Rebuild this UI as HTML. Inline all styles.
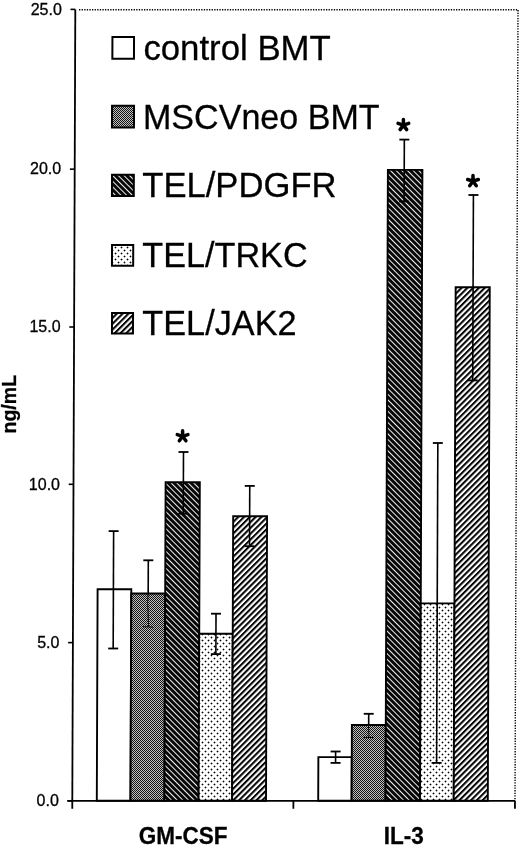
<!DOCTYPE html>
<html><head><meta charset="utf-8"><style>
html,body{margin:0;padding:0;background:#fff;overflow:hidden;}
svg{display:block;filter:grayscale(1);}
text{font-family:"Liberation Sans",sans-serif;fill:#000;stroke:#000;stroke-width:0.3px;}
</style></head><body>
<svg width="520" height="847" viewBox="0 0 520 847">
<defs>
<pattern id="pMS" patternUnits="userSpaceOnUse" width="2" height="2">
<rect width="2" height="2" fill="#c0c0c0"/><rect x="0" y="0" width="1" height="1" fill="#141414"/><rect x="1" y="1" width="1" height="1" fill="#141414"/>
</pattern>
<pattern id="pPD" patternUnits="userSpaceOnUse" width="4.0" height="4.0" patternTransform="rotate(45)">
<rect width="4.0" height="4.0" fill="#080808"/><rect x="0" y="0" width="4.0" height="1.0" fill="#f0f0f0"/>
</pattern>
<pattern id="pJK" patternUnits="userSpaceOnUse" width="4.1" height="4.1" patternTransform="rotate(-45)">
<rect width="4.1" height="4.1" fill="#fff"/><rect x="0" y="0" width="4.1" height="2.05" fill="#050505"/>
</pattern>
<pattern id="pTR" patternUnits="userSpaceOnUse" width="6" height="6">
<rect width="6" height="6" fill="#fff"/><rect x="1" y="1" width="1" height="1" fill="#000"/><rect x="0" y="1" width="1" height="1" fill="#a8a8a8"/><rect x="2" y="1" width="1" height="1" fill="#a8a8a8"/><rect x="1" y="0" width="1" height="1" fill="#a8a8a8"/><rect x="1" y="2" width="1" height="1" fill="#a8a8a8"/><rect x="4" y="4" width="1" height="1" fill="#000"/><rect x="3" y="4" width="1" height="1" fill="#a8a8a8"/><rect x="5" y="4" width="1" height="1" fill="#a8a8a8"/><rect x="4" y="3" width="1" height="1" fill="#a8a8a8"/><rect x="4" y="5" width="1" height="1" fill="#a8a8a8"/>
</pattern>
</defs>

<path d="M79.01,9.70 L518.01,9.70 L515.00,800.80" fill="none" stroke="#000" stroke-width="1.4" stroke-dasharray="1.3 1.3"/>
<path d="M97.60,589.20 L131.30,589.20 L130.50,800.80 L96.80,800.80 Z" fill="#ffffff" stroke="#000" stroke-width="1.9"/>
<path d="M131.29,593.50 L165.19,593.50 L164.40,800.80 L130.50,800.80 Z" fill="url(#pMS)" stroke="#000" stroke-width="1.9"/>
<path d="M165.61,482.20 L199.81,482.20 L198.60,800.80 L164.40,800.80 Z" fill="url(#pPD)" stroke="#000" stroke-width="1.9"/>
<path d="M199.23,633.80 L232.73,633.80 L232.10,800.80 L198.60,800.80 Z" fill="url(#pTR)" stroke="#000" stroke-width="1.9"/>
<path d="M233.18,516.20 L267.08,516.20 L266.00,800.80 L232.10,800.80 Z" fill="url(#pJK)" stroke="#000" stroke-width="1.9"/>
<path d="M318.37,757.10 L351.77,757.10 L351.60,800.80 L318.20,800.80 Z" fill="#ffffff" stroke="#000" stroke-width="1.9"/>
<path d="M351.89,725.00 L385.79,725.00 L385.50,800.80 L351.60,800.80 Z" fill="url(#pMS)" stroke="#000" stroke-width="1.9"/>
<path d="M387.90,169.90 L422.40,169.90 L420.00,800.80 L385.50,800.80 Z" fill="url(#pPD)" stroke="#000" stroke-width="1.9"/>
<path d="M420.75,603.40 L454.45,603.40 L453.70,800.80 L420.00,800.80 Z" fill="url(#pTR)" stroke="#000" stroke-width="1.9"/>
<path d="M455.65,287.30 L489.75,287.30 L487.80,800.80 L453.70,800.80 Z" fill="url(#pJK)" stroke="#000" stroke-width="1.9"/>
<path d="M113.62,531.10 L113.40,589.20" stroke="#000" stroke-width="1.6"/>
<path d="M113.40,589.20 L113.18,648.50" stroke="#000" stroke-width="1.6"/>
<path d="M108.18,648.50 L118.18,648.50" stroke="#000" stroke-width="1.8"/>
<path d="M108.62,531.10 L118.62,531.10" stroke="#000" stroke-width="1.8"/>
<path d="M148.31,560.30 L148.19,593.50" stroke="#000" stroke-width="1.6"/>
<path d="M148.19,593.50 L148.06,627.00" stroke="#000" stroke-width="1.6" stroke-dasharray="1.2 0.9"/>
<path d="M143.06,627.00 L153.06,627.00" stroke="#000" stroke-width="1.7" stroke-dasharray="1.2 0.9"/>
<path d="M143.31,560.30 L153.31,560.30" stroke="#000" stroke-width="1.8"/>
<path d="M183.49,452.00 L183.38,482.20" stroke="#000" stroke-width="1.6"/>
<path d="M183.38,482.20 L183.26,513.70" stroke="#000" stroke-width="1.6"/>
<path d="M178.26,513.70 L188.26,513.70" stroke="#000" stroke-width="1.8"/>
<path d="M178.49,452.00 L188.49,452.00" stroke="#000" stroke-width="1.8"/>
<path d="M216.02,613.70 L215.95,633.80" stroke="#000" stroke-width="1.6"/>
<path d="M215.95,633.80 L215.87,654.10" stroke="#000" stroke-width="1.6"/>
<path d="M210.87,654.10 L220.87,654.10" stroke="#000" stroke-width="1.8"/>
<path d="M211.02,613.70 L221.02,613.70" stroke="#000" stroke-width="1.8"/>
<path d="M249.75,485.90 L249.64,516.20" stroke="#000" stroke-width="1.6"/>
<path d="M249.64,516.20 L249.52,546.20" stroke="#000" stroke-width="1.6"/>
<path d="M244.52,546.20 L254.52,546.20" stroke="#000" stroke-width="1.8"/>
<path d="M244.75,485.90 L254.75,485.90" stroke="#000" stroke-width="1.8"/>
<path d="M335.62,751.50 L335.60,757.10" stroke="#000" stroke-width="1.6"/>
<path d="M335.60,757.10 L335.58,762.90" stroke="#000" stroke-width="1.6"/>
<path d="M330.58,762.90 L340.58,762.90" stroke="#000" stroke-width="1.8"/>
<path d="M330.62,751.50 L340.62,751.50" stroke="#000" stroke-width="1.8"/>
<path d="M368.72,713.80 L368.68,725.00" stroke="#000" stroke-width="1.6"/>
<path d="M368.68,725.00 L368.63,737.50" stroke="#000" stroke-width="1.6" stroke-dasharray="1.2 0.9"/>
<path d="M363.63,737.50 L373.63,737.50" stroke="#000" stroke-width="1.7" stroke-dasharray="1.2 0.9"/>
<path d="M363.72,713.80 L373.72,713.80" stroke="#000" stroke-width="1.8"/>
<path d="M404.34,139.60 L404.22,169.90" stroke="#000" stroke-width="1.6"/>
<path d="M404.22,169.90 L404.10,201.50" stroke="#000" stroke-width="1.6"/>
<path d="M399.10,201.50 L409.10,201.50" stroke="#000" stroke-width="1.8"/>
<path d="M399.34,139.60 L409.34,139.60" stroke="#000" stroke-width="1.8"/>
<path d="M437.83,443.00 L437.22,603.40" stroke="#000" stroke-width="1.6"/>
<path d="M437.22,603.40 L436.61,762.90" stroke="#000" stroke-width="1.6"/>
<path d="M431.61,762.90 L441.61,762.90" stroke="#000" stroke-width="1.8"/>
<path d="M432.83,443.00 L442.83,443.00" stroke="#000" stroke-width="1.8"/>
<path d="M473.42,195.00 L473.07,287.30" stroke="#000" stroke-width="1.6"/>
<path d="M473.07,287.30 L472.71,380.40" stroke="#000" stroke-width="1.6"/>
<path d="M467.71,380.40 L477.71,380.40" stroke="#000" stroke-width="1.8"/>
<path d="M468.42,195.00 L478.42,195.00" stroke="#000" stroke-width="1.8"/>
<path d="M75.31,9.60 L72.27,808.80" stroke="#000" stroke-width="1.8"/>
<path d="M67.30,800.80 L515.00,800.80" stroke="#000" stroke-width="1.8"/>
<path d="M515.00,800.80 L514.97,808.80" stroke="#000" stroke-width="1.8"/>
<path d="M293.40,800.80 L293.37,808.80" stroke="#000" stroke-width="1.8"/>
<path d="M67.50,800.80 L72.30,800.80" stroke="#000" stroke-width="1.6"/>
<text x="58.80" y="806.10" font-size="16" text-anchor="end">0.0</text>
<path d="M68.10,642.60 L72.90,642.60" stroke="#000" stroke-width="1.6"/>
<text x="59.40" y="647.90" font-size="16" text-anchor="end">5.0</text>
<path d="M68.70,484.30 L73.50,484.30" stroke="#000" stroke-width="1.6"/>
<text x="60.00" y="489.60" font-size="16" text-anchor="end">10.0</text>
<path d="M69.30,327.00 L74.10,327.00" stroke="#000" stroke-width="1.6"/>
<text x="60.60" y="332.30" font-size="16" text-anchor="end">15.0</text>
<path d="M69.90,169.15 L74.70,169.15" stroke="#000" stroke-width="1.6"/>
<text x="61.20" y="174.45" font-size="16" text-anchor="end">20.0</text>
<path d="M70.51,9.40 L75.31,9.40" stroke="#000" stroke-width="1.6"/>
<text x="61.81" y="14.70" font-size="16" text-anchor="end">25.0</text>
<path d="M182.60,436.30 L182.60,430.70 M182.60,436.30 L187.93,434.57 M182.60,436.30 L185.89,440.83 M182.60,436.30 L179.31,440.83 M182.60,436.30 L177.27,434.57 " stroke="#000" stroke-width="3.5" stroke-linecap="round" fill="none"/>
<circle cx="182.60" cy="436.30" r="2.6" fill="#000"/>
<path d="M403.40,125.10 L403.40,119.50 M403.40,125.10 L408.73,123.37 M403.40,125.10 L406.69,129.63 M403.40,125.10 L400.11,129.63 M403.40,125.10 L398.07,123.37 " stroke="#000" stroke-width="3.5" stroke-linecap="round" fill="none"/>
<circle cx="403.40" cy="125.10" r="2.6" fill="#000"/>
<path d="M473.00,181.20 L473.00,175.60 M473.00,181.20 L478.33,179.47 M473.00,181.20 L476.29,185.73 M473.00,181.20 L469.71,185.73 M473.00,181.20 L467.67,179.47 " stroke="#000" stroke-width="3.5" stroke-linecap="round" fill="none"/>
<circle cx="473.00" cy="181.20" r="2.6" fill="#000"/>
<path d="M112.44,36.96 L134.04,36.96 L133.96,58.70 L112.36,58.70 Z" fill="#ffffff" stroke="#000" stroke-width="2.0"/>
<text x="143.42" y="59.60" font-size="35.4" textLength="187.37" lengthAdjust="spacingAndGlyphs">control BMT</text>
<path d="M112.04,105.80 L134.04,105.80 L133.96,127.60 L111.96,127.60 Z" fill="url(#pMS)" stroke="#000" stroke-width="2.0"/>
<text x="143.01" y="128.50" font-size="35.4" textLength="236.58" lengthAdjust="spacingAndGlyphs">MSCVneo BMT</text>
<path d="M112.04,174.80 L133.84,174.80 L133.76,195.90 L111.96,195.90 Z" fill="url(#pPD)" stroke="#000" stroke-width="2.0"/>
<text x="142.22" y="196.90" font-size="35.4" textLength="194.38" lengthAdjust="spacingAndGlyphs">TEL/PDGFR</text>
<path d="M112.04,244.90 L133.24,244.90 L133.16,265.70 L111.96,265.70 Z" fill="url(#pTR)" stroke="#000" stroke-width="2.0"/>
<text x="142.33" y="266.60" font-size="35.4" textLength="165.27" lengthAdjust="spacingAndGlyphs">TEL/TRKC</text>
<path d="M112.04,312.90 L133.04,312.90 L132.96,333.50 L111.96,333.50 Z" fill="url(#pJK)" stroke="#000" stroke-width="2.0"/>
<text x="142.33" y="334.60" font-size="35.4" textLength="154.19" lengthAdjust="spacingAndGlyphs">TEL/JAK2</text>
<text transform="translate(183.15,843.6) scale(0.92,1)" font-size="24.5" font-weight="bold" text-anchor="middle">GM-CSF</text>
<text transform="translate(403.8,843.8) scale(0.92,1)" font-size="24.5" font-weight="bold" text-anchor="middle">IL-3</text>
<text transform="translate(15.91,404.2) rotate(-90)" font-size="19.5" font-weight="bold" text-anchor="middle">ng/mL</text>
</svg>
</body></html>
